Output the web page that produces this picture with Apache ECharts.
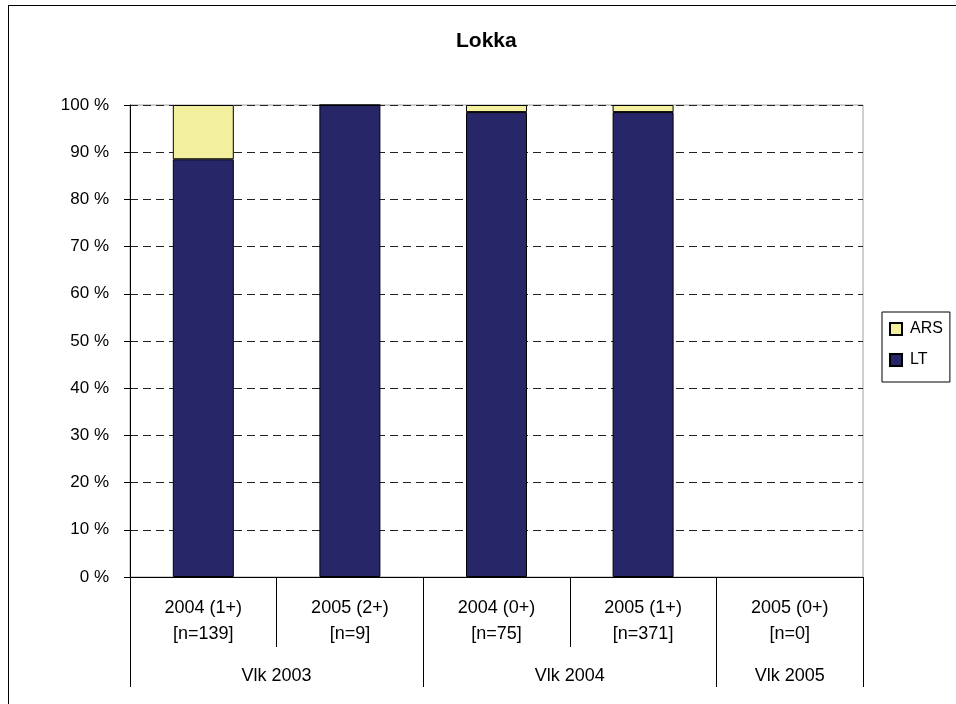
<!DOCTYPE html>
<html lang="fi">
<head>
  <meta charset="UTF-8">
  <title>Lokka</title>
  <style>
    body {
      margin: 0;
      font-family: 'Liberation Sans', Arial, sans-serif;
      background: #fff;
    }
    #wrap {
      position: relative;
      width: 956px;
      height: 704px;
      overflow: hidden;
    }
    #chart {
      position: absolute;
      left: 0;
      top: 0;
      width: 956px;
      height: 704px;
    }
    /* outer frame of the original chart, only left and top edges are visible */
    #frame {
      position: absolute;
      left: 8px;
      top: 5px;
      width: 1000px;
      height: 800px;
      border-left: 1px solid #000;
      border-top: 1px solid #000;
      pointer-events: none;
    }
  </style>
  <script src="https://cdn.jsdelivr.net/npm/echarts@6/dist/echarts.min.js"></script>
</head>
<body>
<div id="wrap">
  <div id="chart"></div>
  <div id="frame"></div>
</div>

<script>
  // data
  var categories = ['2004 (1+)\n[n=139]', '2005 (2+)\n[n=9]', '2004 (0+)\n[n=75]', '2005 (1+)\n[n=371]', '2005 (0+)\n[n=0]'];
  var ltValues  = [88.5, 100, 98.5, 98.5, null];
  var arsValues = [11.5, 0, 1.5, 1.5, null];
  // group axis: half-category points, label at group centre
  var groupPoints = ['', '', 'Vlk 2003', '', '', '', 'Vlk 2004', '', '', 'Vlk 2005', ''];
  var groupEdges = [0, 4, 8, 10];
  var yTicks = [0, 10, 20, 30, 40, 50, 60, 70, 80, 90, 100];

  var chart = echarts.init(document.getElementById('chart'));

  var option = {
    animation: false,
    textStyle: { fontFamily: 'Liberation Sans, Arial, sans-serif' },
    title: {
      text: 'Lokka',
      left: 451,
      top: 26,
      textStyle: { fontSize: 21, fontWeight: 'bold', color: '#000' }
    },
    grid: {
      left: 130,
      right: 93,
      top: 105,
      bottom: 127,
      show: true,
      borderColor: '#a0a0a0',
      borderWidth: 1
    },
    legend: {
      orient: 'vertical',
      left: 882,
      top: 312,
      data: ['ARS', 'LT'],
      icon: 'rect',
      itemWidth: 12,
      itemHeight: 12,
      itemGap: 15,
      padding: [9, 7, 14, 7],
      borderColor: '#000',
      borderWidth: 1,
      textStyle: { fontSize: 16, color: '#000', padding: [0, 0, 0, 3] }
    },
    xAxis: [
      {
        type: 'category',
        data: categories,
        axisLine: { lineStyle: { color: '#000', width: 1 } },
        axisTick: { show: true, interval: 0, length: 70, lineStyle: { color: '#000' } },
        axisLabel: { interval: 0, fontSize: 18, color: '#000', lineHeight: 26, margin: 18 }
      },
      {
        type: 'category',
        position: 'bottom',
        boundaryGap: false,
        data: groupPoints,
        axisLine: { show: false },
        axisTick: {
          show: true,
          length: 110,
          interval: function (index) { return groupEdges.indexOf(index) >= 0; },
          lineStyle: { color: '#000' }
        },
        axisLabel: {
          fontSize: 18,
          color: '#000',
          margin: 90,
          interval: function (index, value) { return value !== ''; }
        },
        splitLine: { show: false }
      }
    ],
    yAxis: {
      type: 'value',
      min: yTicks[0],
      max: yTicks[yTicks.length - 1],
      interval: 10,
      axisLine: { show: true, lineStyle: { color: '#000' } },
      axisTick: { show: true, length: 6, lineStyle: { color: '#000' } },
      axisLabel: { formatter: '{value} %', fontSize: 17, color: '#000', margin: 21 },
      splitLine: { show: true, lineStyle: { color: '#222', type: [8, 5], width: 1 } }
    },
    series: [
      {
        name: 'LT',
        type: 'bar',
        stack: 'all',
        barWidth: 61,
        data: ltValues,
        itemStyle: { color: '#262669', borderColor: '#000', borderWidth: 1 }
      },
      {
        name: 'ARS',
        type: 'bar',
        stack: 'all',
        barWidth: 61,
        data: arsValues,
        itemStyle: { color: '#f2f09e', borderColor: '#000', borderWidth: 1 }
      }
    ]
  };

  chart.setOption(option);
</script>
</body>
</html>
